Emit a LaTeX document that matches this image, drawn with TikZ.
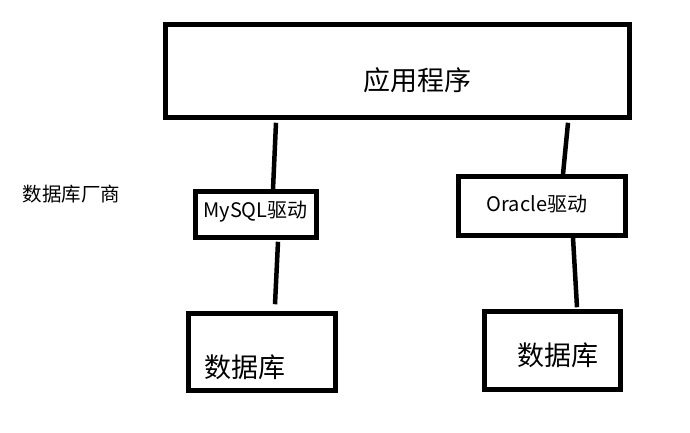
\documentclass[tikz,border=0pt]{standalone}
\usepackage{fontspec}
\setmainfont{Noto Sans CJK SC}
\usetikzlibrary{calc}

\tikzset{
  box/.style={draw, line width=4.5pt, inner sep=0pt},
  link/.style={line width=4.5pt},
  big/.style={font=\fontsize{27pt}{30pt}\selectfont},
  small/.style={font=\fontsize{20pt}{23pt}\selectfont}
}

\begin{document}
\begin{tikzpicture}[x=1pt, y=-1pt]
  \useasboundingbox (0,0) rectangle (690,432);
  \fill[white] (0,0) rectangle (690,432);

  % boxes
  \node[box, minimum width=464pt, minimum height=93pt] (app) at (397.5,71) {};
  \node[box, minimum width=121pt, minimum height=46pt] (mysql) at (256,214.5) {};
  \node[box, minimum width=167pt, minimum height=59pt] (oracle) at (542,206) {};
  \node[box, minimum width=147pt, minimum height=77pt] (dbleft) at (262,352) {};
  \node[box, minimum width=136pt, minimum height=78pt] (dbright) at (552.5,350.5) {};

  % texts
  \node[big] (apptext) at (417.5,80) {应用程序};
  \node[small] (mysqltext) at (255.5,212) {MySQL驱动};
  \node[small] (oracletext) at (537,204) {Oracle驱动};
  \node[big] (dblefttext) at (245,367.5) {数据库};
  \node[big] (dbrighttext) at (558,355) {数据库};
  \node[font=\fontsize{19.5pt}{22pt}\selectfont] (vendor) at (71.5,194) {数据库厂商};

  % links
  \draw[link] ([xshift=-121.5pt, yshift=-3pt]app.south) -- ([xshift=17pt]mysql.north);
  \draw[link] ([xshift=22pt, yshift=-2pt]mysql.south) -- ([xshift=13pt, yshift=7pt]dbleft.north);
  \draw[link] ([xshift=170.5pt, yshift=-3pt]app.south) -- ([xshift=21pt]oracle.north);
  \draw[link] ([xshift=31pt]oracle.south) -- ([xshift=24.5pt, yshift=2pt]dbright.north);
\end{tikzpicture}
\end{document}
